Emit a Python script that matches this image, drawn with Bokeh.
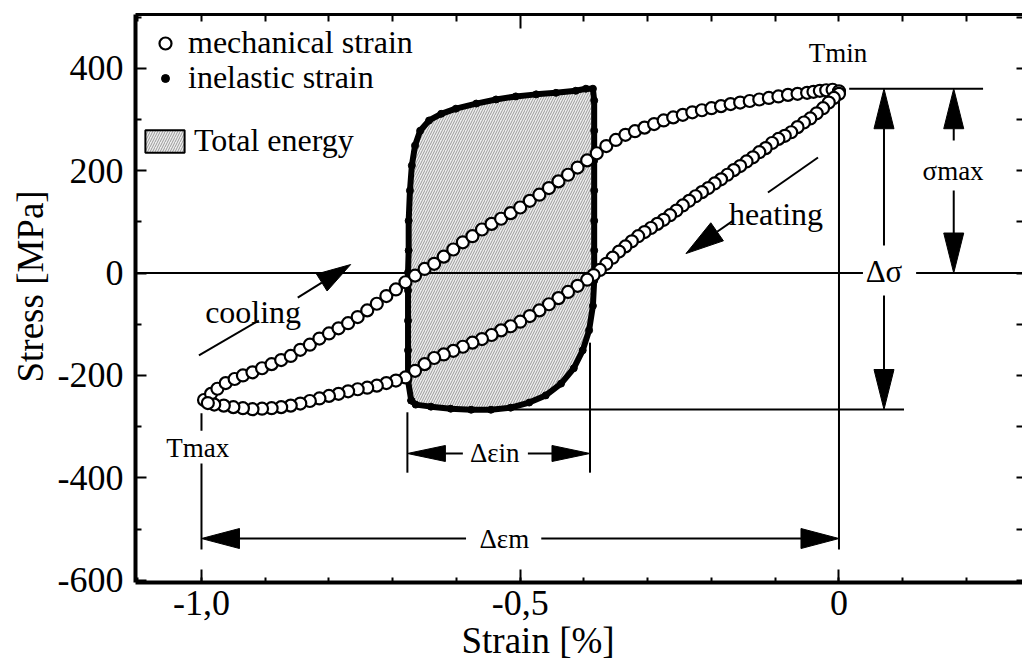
import math
from bokeh.plotting import figure
from bokeh.models import (Range1d, LinearAxis, FixedTicker, CustomJSTickFormatter,
                          Label, Legend, LegendItem, Title)
from bokeh.embed import file_html
from bokeh.resources import INLINE

# ---------------- data ----------------
cool_strain = [-0.996, -0.985, -0.975, -0.962, -0.948, -0.935, -0.92, -0.905, -0.89, -0.875,
               -0.86, -0.845, -0.83, -0.815, -0.80, -0.785, -0.77, -0.755, -0.74, -0.725,
               -0.71, -0.695, -0.68, -0.665, -0.65, -0.635, -0.62, -0.605, -0.59, -0.575,
               -0.56, -0.545, -0.53, -0.515, -0.50, -0.485, -0.47, -0.455, -0.44, -0.425,
               -0.41, -0.395, -0.38, -0.365, -0.35, -0.335, -0.32, -0.305, -0.29, -0.275,
               -0.26, -0.245, -0.23, -0.215, -0.20, -0.185, -0.17, -0.155, -0.14, -0.125,
               -0.11, -0.095, -0.08, -0.065, -0.05, -0.04, -0.03, -0.02, -0.01, 0.0]
cool_stress = [-248, -236, -226, -215, -207, -200, -194, -186, -178, -170,
               -162, -150, -140, -128, -118, -108, -98, -86, -73, -60,
               -45, -32, -18, -5, 8, 18, 32, 46, 60, 72,
               85, 96, 106, 117, 128, 141, 153, 166, 179, 192,
               206, 220, 234, 248, 260, 270, 277, 284, 291, 298,
               304, 309, 314, 318, 322, 326, 330, 333, 336, 339,
               342, 345, 348, 350, 352, 354, 356, 357, 358, 355]

heat_strain = [0.0, -0.008, -0.016, -0.025, -0.035, -0.045, -0.055, -0.065, -0.075, -0.085,
               -0.095, -0.105, -0.115, -0.125, -0.135, -0.145, -0.155, -0.165, -0.175, -0.185,
               -0.195, -0.205, -0.215, -0.225, -0.235, -0.245, -0.255, -0.265, -0.275, -0.285,
               -0.295, -0.305, -0.315, -0.325, -0.335, -0.345, -0.355, -0.365, -0.375, -0.385,
               -0.395, -0.41, -0.425, -0.44, -0.455, -0.47, -0.485, -0.50, -0.515, -0.53,
               -0.545, -0.56, -0.575, -0.59, -0.605, -0.62, -0.635, -0.65, -0.665, -0.68,
               -0.695, -0.71, -0.725, -0.74, -0.755, -0.77, -0.785, -0.80, -0.815, -0.83,
               -0.845, -0.86, -0.875, -0.89, -0.905, -0.92, -0.935, -0.95, -0.965, -0.98, -0.99]
heat_stress = [350, 342, 333, 322, 312, 302, 294, 285, 275, 268,
               262, 254, 244, 236, 226, 218, 209, 201, 192, 183,
               175, 166, 158, 150, 141, 132, 122, 113, 104, 96,
               88, 80, 72, 62, 52, 42, 30, 18, 6, -4,
               -13, -25, -37, -49, -61, -73, -84, -95, -104, -112,
               -121, -129, -136, -144, -152, -159, -166, -178, -191, -204,
               -210, -215, -220, -224, -227, -231, -236, -240, -245, -250,
               -255, -259, -262, -264, -265, -266, -264, -262, -259, -257, -254]

inel_strain = [-0.671, -0.676, -0.676, -0.676, -0.676, -0.676, -0.675, -0.675, -0.673, -0.670,
               -0.665, -0.657, -0.643, -0.624, -0.601, -0.569, -0.538, -0.507, -0.475, -0.444,
               -0.413, -0.397, -0.386, -0.384, -0.384, -0.384, -0.384, -0.384, -0.384, -0.384,
               -0.386, -0.392, -0.402, -0.416, -0.436, -0.460, -0.486, -0.515, -0.546, -0.577,
               -0.609, -0.640, -0.664, -0.671]
inel_stress = [-249, -210, -151, -93, -34, 1, 44, 102, 161, 210,
               249, 278, 298, 311, 321, 331, 339, 345, 349, 352,
               356, 360, 360, 337, 278, 220, 161, 102, 44, -15,
               -64, -112, -151, -186, -216, -239, -253, -263, -267, -267,
               -265, -261, -257, -249]

x_major_ticks = [-1.0, -0.5, 0.0]
x_minor_ticks = [-1.1, -0.9, -0.8, -0.7, -0.6, -0.4, -0.3, -0.2, -0.1, 0.1, 0.2]
y_major_ticks = [-600, -400, -200, 0, 200, 400]
y_minor_ticks = [-500, -300, -100, 100, 300, 500]

# ---------------- figure geometry ----------------
FW, FH = 887, 568
XMIN = -1.1035
XMAX = XMIN + FW / 637.5
YMIN, YMAX = -604.5, 505.0
XS = FW / (XMAX - XMIN)   # px per strain unit
YS = FH / (YMAX - YMIN)   # px per MPa

FONT = "Liberation Serif"

p = figure(frame_width=FW, frame_height=FH,
           x_range=Range1d(XMIN, XMAX), y_range=Range1d(YMIN, YMAX),
           output_backend="svg", toolbar_location=None,
           x_axis_type=None, y_axis_type=None,
           min_border_left=135, min_border_top=14, min_border_bottom=89, min_border_right=0)
p.outline_line_color = None
p.background_fill_color = "white"
p.border_fill_color = "white"

xfmt = CustomJSTickFormatter(code="if (Math.abs(tick) < 1e-9) { return '0'; } return tick.toFixed(1).replace('.', ',');")
yfmt = CustomJSTickFormatter(code="return tick.toFixed(0);")

bottom = LinearAxis(ticker=FixedTicker(ticks=x_major_ticks, minor_ticks=x_minor_ticks + [-1.0, -0.5, 0.0]),
                    formatter=xfmt)
bottom.axis_line_width = 4
bottom.major_tick_in = 13
bottom.major_tick_out = 0
bottom.minor_tick_in = 5
bottom.minor_tick_out = 0
bottom.major_tick_line_width = 2
bottom.minor_tick_line_width = 2
bottom.major_label_text_font = FONT
bottom.major_label_text_font_size = "36px"
bottom.major_label_text_color = "black"
bottom.major_label_standoff = 8
p.add_layout(bottom, "below")

left = LinearAxis(ticker=FixedTicker(ticks=y_major_ticks, minor_ticks=y_minor_ticks), formatter=yfmt)
left.axis_line_width = 4
left.major_tick_in = 11
left.major_tick_out = 0
left.minor_tick_in = 6
left.minor_tick_out = 0
left.major_tick_line_width = 2
left.minor_tick_line_width = 2
left.major_label_text_font = FONT
left.major_label_text_font_size = "36px"
left.major_label_text_color = "black"
left.major_label_standoff = 12
p.add_layout(left, "left")

top = LinearAxis(ticker=FixedTicker(ticks=[-0.5], minor_ticks=x_minor_ticks + [-1.0, 0.0]))
top.axis_line_width = 3
top.major_tick_in = 14
top.major_tick_out = 0
top.minor_tick_in = 7
top.minor_tick_out = 0
top.major_tick_line_width = 2
top.minor_tick_line_width = 2
top.major_label_text_font_size = "0px"
top.major_label_text_color = None
top.major_label_standoff = 0
p.add_layout(top, "above")

right = LinearAxis(ticker=FixedTicker(ticks=y_major_ticks + y_minor_ticks, minor_ticks=[]))
right.axis_line_color = None
right.major_tick_in = 6
right.major_tick_out = 0
right.major_tick_line_width = 2
right.major_label_text_font_size = "0px"
right.major_label_text_color = None
right.major_label_standoff = 0
p.add_layout(right, "right")

# axis titles
p.add_layout(Title(text="Strain [%]", align="left", offset=326, standoff=0,
                   text_font=FONT, text_font_size="37px", text_font_style="normal",
                   text_color="black"), "below")
p.add_layout(Title(text="Stress [MPa]", align="left", offset=200, standoff=7,
                   text_font=FONT, text_font_size="37px", text_font_style="normal",
                   text_color="black"), "left")

# ---------------- helpers for annotation lines / arrows ----------------
seg_x0, seg_y0, seg_x1, seg_y1 = [], [], [], []
head_xs, head_ys = [], []


def line(x0, y0, x1, y1):
    seg_x0.append(x0); seg_y0.append(y0); seg_x1.append(x1); seg_y1.append(y1)


def arrow(x0, y0, x1, y1, L, W):
    dxp = (x1 - x0) * XS
    dyp = (y1 - y0) * YS
    n = math.hypot(dxp, dyp)
    ux, uy = dxp / n, dyp / n
    bx, by = x1 - ux * L / XS, y1 - uy * L / YS
    line(x0, y0, bx, by)
    px, py = -uy, ux
    head_xs.append([x1, bx + px * W / 2 / XS, bx - px * W / 2 / XS])
    head_ys.append([y1, by + py * W / 2 / YS, by - py * W / 2 / YS])


# ---------------- total energy area ----------------
r_area = p.patch(inel_strain, inel_stress, fill_color="#eeeeee",
                 hatch_pattern="/", hatch_color="#999999", hatch_scale=5, hatch_weight=1,
                 line_color="black", line_width=2)

# zero line (broken around the delta-sigma label)
line(XMIN, 0, 0.0376, 0)
line(0.121, 0, XMAX, 0)
# Tmax and Tmin limit lines
line(-1.0, -274, -1.0, -308)
line(-1.0, -372, -1.0, -540)
line(0.0, 340, 0.0, -540)
line(0.016, 360, 0.226, 360)
line(-0.52, -266.6, 0.102, -266.6)
# inelastic strain limits
line(-0.677, -272, -0.677, -390)
line(-0.3906, -136, -0.3906, -390)
arrow(-0.59, -352.5, -0.677, -352.5, 38, 16)
arrow(-0.488, -352.5, -0.3906, -352.5, 38, 16)
# mechanical strain range
arrow(-0.585, -518.6, -1.0, -518.6, 38, 20)
arrow(-0.467, -518.6, 0.0, -518.6, 38, 20)
# stress range
arrow(0.0706, 53.7, 0.0706, 360, 40, 20)
arrow(0.0706, -43.9, 0.0706, -266.6, 40, 20)
arrow(0.180, 258.8, 0.180, 360, 40, 20)
arrow(0.180, 161, 0.180, 0, 40, 20)
# cooling / heating direction arrows
line(-1.004, -161, -0.91, -92.8)
arrow(-0.849, -47.9, -0.766, 16.6, 34, 20)
line(-0.0329, 225.6, -0.1114, 157.2)
arrow(-0.166, 102.5, -0.24, 38, 38, 22)

p.segment(seg_x0, seg_y0, seg_x1, seg_y1, line_color="black", line_width=2)
p.patches(head_xs, head_ys, fill_color="black", line_color="black", line_width=1)

# ---------------- inelastic strain ----------------
p.line(inel_strain, inel_stress, line_color="black", line_width=6, line_join="round")
r_inel = p.scatter(inel_strain, inel_stress, marker="circle", size=7,
                   fill_color="black", line_color="black")

# ---------------- mechanical strain ----------------
r_cool = p.scatter(cool_strain, cool_stress, marker="circle", size=12,
                   fill_color="white", line_color="black", line_width=2.2)
r_heat = p.scatter(heat_strain, heat_stress, marker="circle", size=12,
                   fill_color="white", line_color="black", line_width=2.2)

# ---------------- labels ----------------
def lab(x, y, text, size, align="center", baseline="middle"):
    p.add_layout(Label(x=x, y=y, text=text, text_font=FONT, text_font_size=size,
                       text_align=align, text_baseline=baseline, text_color="black"))


lab(-0.0016, 430.7, "Tmin", "27px")
lab(-1.006, -340.8, "Tmax", "27px")
lab(0.179, 200, "σmax", "27px")
lab(0.0706, 3, "Δσ", "31px")
lab(-0.54, -352.5, "Δεin", "27px")
lab(-0.525, -518.6, "Δεm", "27px")
lab(-0.919, -75.2, "cooling", "32px", baseline="alphabetic")
lab(-0.0988, 116, "heating", "32px", baseline="alphabetic")

# ---------------- legends ----------------
def legend(item_label, renderer, loc, gw, gh, standoff):
    lg = Legend(items=[LegendItem(label=item_label, renderers=[renderer])],
                location=loc, orientation="vertical",
                glyph_width=gw, glyph_height=gh, label_height=gh,
                label_standoff=standoff, padding=0, margin=0, spacing=0,
                border_line_color=None, background_fill_alpha=0,
                label_text_font=FONT, label_text_font_size="32px",
                label_text_color="black")
    p.add_layout(lg)


legend("mechanical strain", r_cool, (15, 521), 30, 34, 8)
legend("inelastic strain", r_inel, (20, 486), 20, 34, 13)
legend("Total energy", r_area, (5, 423), 49, 28, 5)

open("out.html", "w").write(file_html(p, INLINE))
